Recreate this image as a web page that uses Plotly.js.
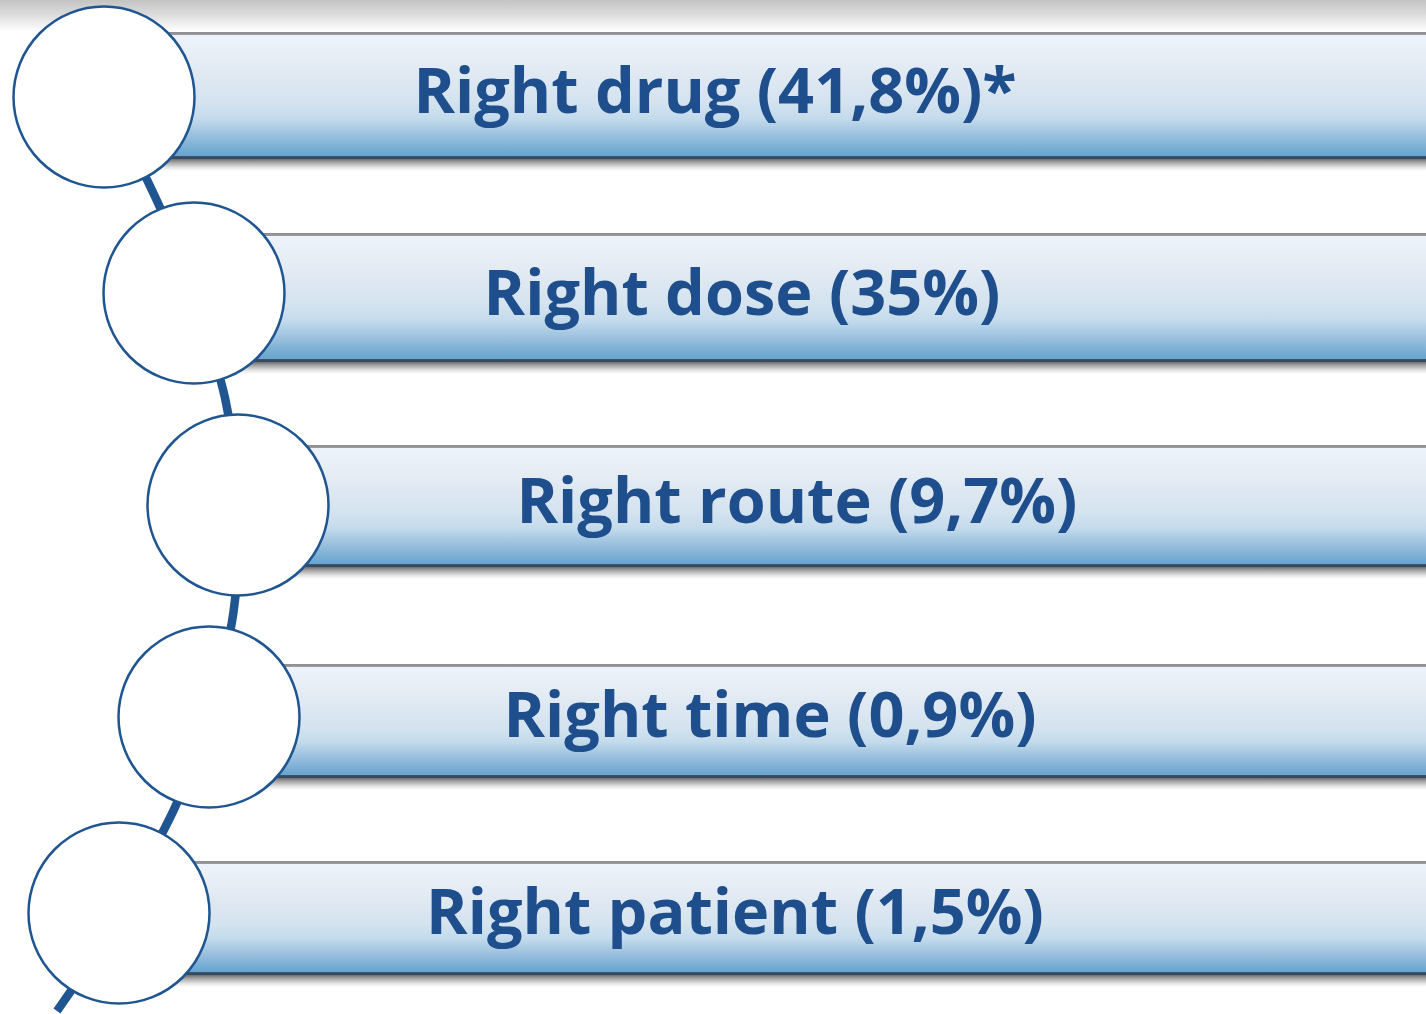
<!DOCTYPE html>
<html>
<head>
<meta charset="utf-8">
<script src="https://cdn.plot.ly/plotly-3.0.1.min.js"></script>
<style>html,body{margin:0;padding:0;background:#fff;}#chart{width:1426px;height:1014px;}</style>
</head>
<body>
<div id="chart"></div>
<script>
// ---- data ----
const categories = ['Right drug', 'Right dose', 'Right route', 'Right time', 'Right patient'];
const shares = [41.8, 35, 9.7, 0.9, 1.5];
const notes = ['*', '', '', '', ''];

// ---- layout geometry (pixels) ----
const barTop = [32, 233, 445, 664, 861];
const barBottom = [159, 362, 567, 778, 975];
const circleX = [104, 194, 238, 209, 119];
const circleY = [97, 293, 505, 717, 913];
const textX = [715, 742, 797, 770, 735];
const textY = [97, 299, 507, 721, 918];
const pathTailX = 57, pathTailY = 1011;

const W = 1426, H = 1014;
function fmt(v) { return String(v).replace('.', ','); }
const labels = categories.map((c, i) => c + ' (' + fmt(shares[i]) + '%)' + notes[i]);

const traces = [];
// top shadow band
traces.push({
  type: 'scatter', mode: 'lines', x: [0, W, W, 0, 0], y: [0, 0, 32, 32, 0],
  fill: 'toself', line: {width: 0}, hoverinfo: 'skip',
  fillgradient: {type: 'vertical', start: 0, stop: 32,
    colorscale: [[0, '#c4c4c4'], [0.4, '#d8d8d8'], [0.8, '#f3f3f3'], [1, '#ffffff']]}
});
// bars
for (let i = 0; i < categories.length; i++) {
  const t = barTop[i], b = barBottom[i], x0 = circleX[i];
  traces.push({
    type: 'scatter', mode: 'lines', x: [x0, W, W, x0, x0], y: [b, b, b + 12, b + 12, b],
    fill: 'toself', line: {width: 0}, hoverinfo: 'skip',
    fillgradient: {type: 'vertical', start: b, stop: b + 12,
      colorscale: [[0, '#6e6e6e'], [0.3, '#a8a8a8'], [0.7, '#e4e4e4'], [1, '#ffffff']]}
  });
  const h = b - t;
  const e1 = 2.5 / h, e2 = 3 / h;
  traces.push({
    type: 'scatter', mode: 'lines', x: [x0, W, W, x0, x0], y: [t, t, b, b, t],
    fill: 'toself', line: {width: 0}, hoverinfo: 'skip',
    fillgradient: {type: 'vertical', start: t, stop: b,
      colorscale: [[0, '#8c8c8c'], [e1, '#9a9a9a'], [e1 + 0.001, '#edf3fa'], [0.3, '#e2eaf3'],
        [0.55, '#d4e3ef'], [0.68, '#c4dbec'], [0.8, '#9fc3df'], [0.95, '#6ea8d0'],
        [1 - e2 - 0.001, '#6aa6cf'], [1 - e2, '#3e5266'], [1, '#36465a']]}
  });
}
// connector path
traces.push({
  type: 'scatter', mode: 'lines',
  x: circleX.concat([pathTailX]), y: circleY.concat([pathTailY]),
  line: {color: '#1f5590', width: 8.5, shape: 'spline', smoothing: 1.2}, hoverinfo: 'skip'
});
// circles
traces.push({
  type: 'scatter', mode: 'markers', x: circleX, y: circleY,
  marker: {size: 181, color: '#ffffff', line: {color: '#1f5590', width: 2.5}}, hoverinfo: 'skip'
});
// labels
traces.push({
  type: 'scatter', mode: 'text', x: textX, y: textY, text: labels,
  textposition: 'middle center',
  textfont: {family: '"Open Sans", sans-serif', size: 63, color: '#1f4e8c', weight: 700},
  hoverinfo: 'skip'
});

const layout = {
  width: W, height: H, margin: {l: 0, r: 0, t: 0, b: 0, pad: 0},
  paper_bgcolor: '#ffffff', plot_bgcolor: '#ffffff', showlegend: false, hovermode: false,
  xaxis: {range: [0, W], autorange: false, visible: false, fixedrange: true},
  yaxis: {range: [H, 0], autorange: false, visible: false, fixedrange: true}
};
Plotly.newPlot('chart', traces, layout, {staticPlot: true, displayModeBar: false});
</script>
</body>
</html>
